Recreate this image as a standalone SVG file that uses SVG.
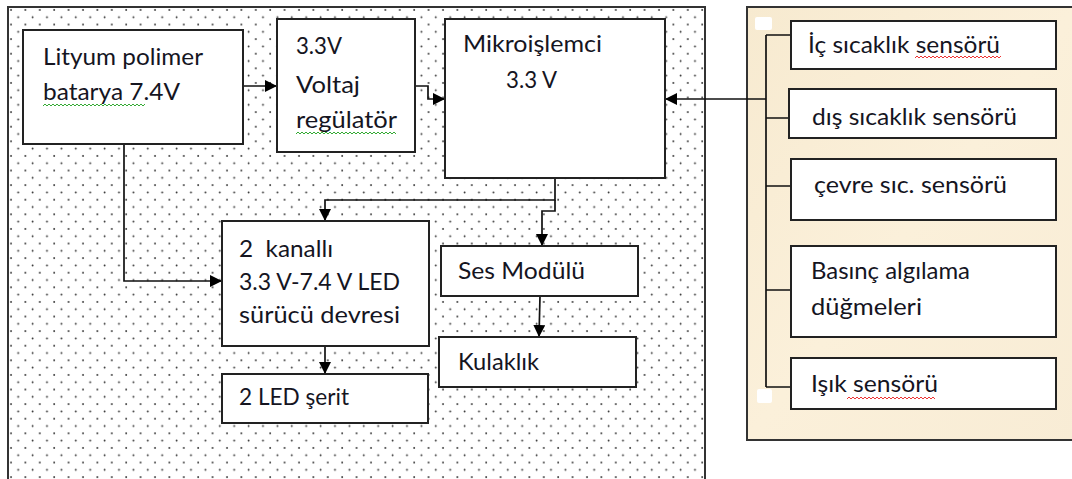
<svg xmlns="http://www.w3.org/2000/svg" width="1072" height="479" viewBox="0 0 1072 479">
<defs>
<pattern id="dots" x="8" y="7" width="14.4" height="14.6" patternUnits="userSpaceOnUse">
<circle cx="3" cy="3" r="0.95" fill="#333"/>
<circle cx="10.2" cy="10.3" r="0.95" fill="#333"/>
</pattern>
<linearGradient id="parch" x1="0" y1="0" x2="1" y2="1">
<stop offset="0" stop-color="#f7ead0"/>
<stop offset="0.5" stop-color="#fbf0da"/>
<stop offset="1" stop-color="#f8ecd5"/>
</linearGradient>
<marker id="ah" viewBox="0 0 12 12" refX="12" refY="6" markerWidth="12" markerHeight="12" markerUnits="userSpaceOnUse" orient="auto">
<path d="M0,0 L12,6 L0,12 z" fill="#000"/>
</marker>
</defs>
<style>
.box{fill:#fff;stroke:#222;stroke-width:2}
.t{font-family:Lato,"Open Sans","DejaVu Sans",sans-serif;font-size:22.5px;fill:#15151f}
.c{fill:none;stroke:#111;stroke-width:1.7}
.ca{fill:none;stroke:#111;stroke-width:1.7;marker-end:url(#ah)}
.sq{fill:none;stroke-width:1}
</style>
<rect x="0" y="0" width="1072" height="479" fill="#fff"/>
<g id="frame">
<rect x="8" y="7" width="697" height="480" fill="#fff" stroke="#333" stroke-width="2"/>
<rect x="9" y="8" width="695" height="480" fill="url(#dots)"/>
</g>
<g id="panel">
<rect x="747" y="7" width="330" height="433" fill="url(#parch)" stroke="#333" stroke-width="2"/>
<rect x="755" y="17" width="17" height="13" rx="2" fill="#fff"/>
<rect x="757" y="389" width="15" height="14" rx="2" fill="#fff"/>
</g>
<g id="connectors">
<path class="ca" d="M243,86 L277,86"/>
<path class="ca" d="M415,86 L428,86 L428,99 L445,99"/>
<path class="ca" d="M766,99 L665,99"/>
<path class="c" d="M766,35 L766,387"/>
<path class="c" d="M766,35 L791,35 M766,118 L789,118 M766,186 L791,186 M766,290 L791,290 M766,387 L791,387"/>
<path class="ca" d="M555,178 L555,200 L325,200 L325,221"/>
<path class="ca" d="M555,200 L555,211 L542,211 L542,246"/>
<path class="ca" d="M124,144 L124,281 L222,281"/>
<path class="ca" d="M325,346 L325,374"/>
<path class="ca" d="M540,296 L539,337"/>
</g>
<g id="battery">
<rect class="box" x="23" y="30" width="220" height="114"/>
<text class="t" x="43" y="65" textLength="160" lengthAdjust="spacingAndGlyphs">Lityum polimer</text>
<text class="t" x="43" y="100" textLength="137" lengthAdjust="spacingAndGlyphs">batarya 7.4V</text>
<path class="sq" stroke="#3a3" d="M43,106 l2,-2 l2,2 l2,-2 l2,2 l2,-2 l2,2 l2,-2 l2,2 l2,-2 l2,2 l2,-2 l2,2 l2,-2 l2,2 l2,-2 l2,2 l2,-2 l2,2 l2,-2 l2,2 l2,-2 l2,2 l2,-2 l2,2 l2,-2 l2,2 l2,-2 l2,2 l2,-2 l2,2 l2,-2 l2,2 l2,-2 l2,2 l2,-2 l2,2 l2,-2 l2,2 l2,-2 l2,2 l2,-2 l2,2 l2,-2 l2,2 l2,-2 l2,2 l2,-2 l2,2 l2,-2 l2,2 l2,-2"/>
</g>
<g id="regulator">
<rect class="box" x="277" y="19" width="138" height="133"/>
<text class="t" x="296" y="54" textLength="46" lengthAdjust="spacingAndGlyphs">3.3V</text>
<text class="t" x="296" y="93" textLength="64" lengthAdjust="spacingAndGlyphs">Voltaj</text>
<text class="t" x="296" y="128" textLength="101" lengthAdjust="spacingAndGlyphs">regülatör</text>
<path class="sq" stroke="#3a3" d="M296,134 l2,-2 l2,2 l2,-2 l2,2 l2,-2 l2,2 l2,-2 l2,2 l2,-2 l2,2 l2,-2 l2,2 l2,-2 l2,2 l2,-2 l2,2 l2,-2 l2,2 l2,-2 l2,2 l2,-2 l2,2 l2,-2 l2,2 l2,-2 l2,2 l2,-2 l2,2 l2,-2 l2,2 l2,-2 l2,2 l2,-2 l2,2 l2,-2 l2,2 l2,-2 l2,2 l2,-2 l2,2 l2,-2 l2,2 l2,-2 l2,2 l2,-2 l2,2 l2,-2 l2,2 l2,-2 l2,2"/>
</g>
<g id="mcu">
<rect class="box" x="445" y="19" width="220" height="159"/>
<text class="t" x="463" y="52" textLength="139" lengthAdjust="spacingAndGlyphs">Mikroişlemci</text>
<text class="t" x="506" y="88" textLength="51" lengthAdjust="spacingAndGlyphs">3.3 V</text>
</g>
<g id="leddriver">
<rect class="box" x="222" y="221" width="207" height="125"/>
<text class="t" x="239" y="257" textLength="94" lengthAdjust="spacingAndGlyphs" xml:space="preserve">2  kanallı</text>
<text class="t" x="239" y="290" textLength="161" lengthAdjust="spacingAndGlyphs">3.3 V-7.4 V LED</text>
<text class="t" x="239" y="323" textLength="161" lengthAdjust="spacingAndGlyphs">sürücü devresi</text>
</g>
<g id="ledstrip">
<rect class="box" x="222" y="374" width="206" height="49"/>
<text class="t" x="239" y="405" textLength="110" lengthAdjust="spacingAndGlyphs">2 LED şerit</text>
</g>
<g id="sound">
<rect class="box" x="441" y="246" width="197" height="50"/>
<text class="t" x="458" y="279" textLength="127" lengthAdjust="spacingAndGlyphs">Ses Modülü</text>
</g>
<g id="headphone">
<rect class="box" x="439" y="337" width="197" height="50"/>
<text class="t" x="458" y="370" textLength="81" lengthAdjust="spacingAndGlyphs">Kulaklık</text>
</g>
<g id="s1">
<rect class="box" x="791" y="21" width="265" height="48"/>
<text class="t" x="808" y="53" textLength="192" lengthAdjust="spacingAndGlyphs">İç sıcaklık sensörü</text>
<path class="sq" stroke="#e33" d="M915,58 l2,-2 l2,2 l2,-2 l2,2 l2,-2 l2,2 l2,-2 l2,2 l2,-2 l2,2 l2,-2 l2,2 l2,-2 l2,2 l2,-2 l2,2 l2,-2 l2,2 l2,-2 l2,2 l2,-2 l2,2 l2,-2 l2,2 l2,-2 l2,2 l2,-2 l2,2 l2,-2 l2,2 l2,-2 l2,2 l2,-2 l2,2 l2,-2 l2,2 l2,-2 l2,2 l2,-2 l2,2 l2,-2 l2,2 l2,-2"/>
</g>
<g id="s2">
<rect class="box" x="789" y="89" width="267" height="49"/>
<text class="t" x="812" y="125" textLength="205" lengthAdjust="spacingAndGlyphs">dış sıcaklık sensörü</text>
</g>
<g id="s3">
<rect class="box" x="791" y="159" width="265" height="61"/>
<text class="t" x="814" y="193" textLength="193" lengthAdjust="spacingAndGlyphs">çevre sıc. sensörü</text>
</g>
<g id="s4">
<rect class="box" x="791" y="246" width="265" height="91"/>
<text class="t" x="811" y="279" textLength="159" lengthAdjust="spacingAndGlyphs">Basınç algılama</text>
<text class="t" x="811" y="315" textLength="111" lengthAdjust="spacingAndGlyphs">düğmeleri</text>
</g>
<g id="s5">
<rect class="box" x="791" y="358" width="265" height="51"/>
<text class="t" x="811" y="392" textLength="127" lengthAdjust="spacingAndGlyphs">Işık sensörü</text>
<path class="sq" stroke="#e33" d="M847,399 l2,-2 l2,2 l2,-2 l2,2 l2,-2 l2,2 l2,-2 l2,2 l2,-2 l2,2 l2,-2 l2,2 l2,-2 l2,2 l2,-2 l2,2 l2,-2 l2,2 l2,-2 l2,2 l2,-2 l2,2 l2,-2 l2,2 l2,-2 l2,2 l2,-2 l2,2 l2,-2 l2,2 l2,-2 l2,2 l2,-2 l2,2 l2,-2 l2,2 l2,-2 l2,2 l2,-2 l2,2 l2,-2 l2,2 l2,-2 l2,2"/>
</g>
</svg>
